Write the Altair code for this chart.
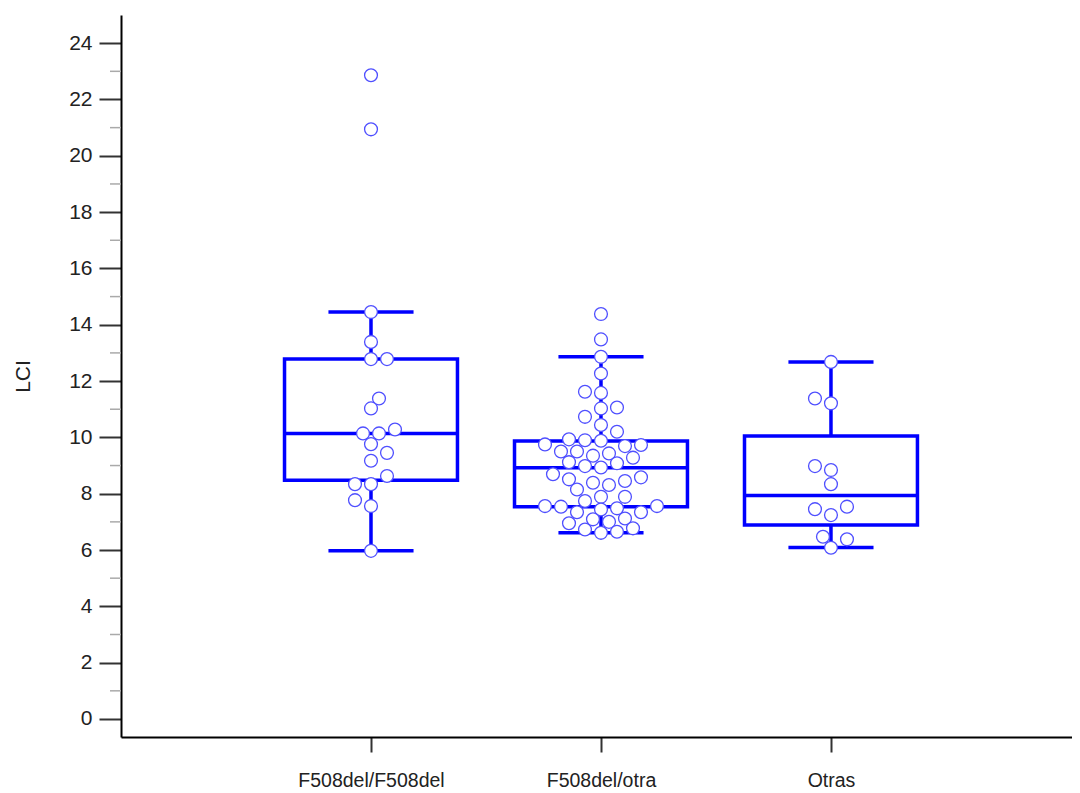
import altair as alt
import pandas as pd

# ---------------- data ----------------
categories = ["F508del/F508del", "F508del/otra", "Otras"]

lci_f508_f508 = [22.86, 20.94, 14.45, 13.39, 12.78, 12.78, 11.38, 11.03, 10.28, 10.14,
                 10.14, 9.76, 9.45, 9.17, 8.63, 8.34, 8.34, 7.77, 7.56, 5.97]

lci_f508_otra = [14.38, 13.48, 12.86, 12.27, 11.62, 11.58, 11.06, 11.03, 10.73, 10.44,
                 10.20, 9.93, 9.90, 9.88, 9.75, 9.73, 9.69, 9.50, 9.50, 9.43,
                 9.35, 9.28, 9.12, 9.08, 8.98, 8.93, 8.69, 8.58, 8.51, 8.45,
                 8.39, 8.31, 8.15, 7.89, 7.89, 7.74, 7.56, 7.56, 7.54, 7.48,
                 7.44, 7.34, 7.34, 7.12, 7.09, 7.00, 6.95, 6.77, 6.73, 6.65, 6.61]

lci_otras = [12.68, 11.38, 11.21, 8.98, 8.84, 8.34, 7.54, 7.45, 7.24, 6.47, 6.38, 6.08]

# box statistics
box_low = [5.97, 6.61, 6.09]
box_q1 = [8.48, 7.54, 6.89]
box_median = [10.14, 8.92, 7.94]
box_q3 = [12.78, 9.87, 10.05]
box_high = [14.45, 12.86, 12.68]

y_ticks = list(range(0, 25, 2))
y_minor = list(range(1, 24, 2))

# ---------------- layout constants ----------------
W, H = 951, 722
XDOM = [-1.087, 3.048]
YDOM = [-0.64, 25.0]
XPX = W / (XDOM[1] - XDOM[0])
YPX = H / (YDOM[1] - YDOM[0])
BLUE = "#0000ff"
BOX_HALF = 0.376
CAP_HALF = 0.185


def swarm(values, step_px=8.0, min_px=12.5):
    placed = []
    offs = [0.0] * len(values)
    order = sorted(range(len(values)), key=lambda i: values[i])
    for n, i in enumerate(order):
        y = values[i] * YPX
        cands = [0]
        for k in range(1, 30):
            cands += [-k, k] if n % 2 == 0 else [k, -k]
        for k in cands:
            x = k * step_px
            if all((x - px) ** 2 + (y - py) ** 2 >= min_px ** 2 for px, py in placed):
                break
        placed.append((x, y))
        offs[i] = x / XPX
    return offs


rows = []
for gi, vals in enumerate([lci_f508_f508, lci_f508_otra, lci_otras]):
    for v, o in zip(vals, swarm(vals)):
        rows.append({"grupo": categories[gi], "idx": gi, "LCI": v, "xpos": gi + o})
points = pd.DataFrame(rows)

boxes = pd.DataFrame({
    "grupo": categories,
    "idx": [0, 1, 2],
    "low": box_low, "q1": box_q1, "median": box_median, "q3": box_q3, "high": box_high,
})

label_expr = "[" + ",".join("'" + c + "'" for c in categories) + "][datum.value]"

xscale = alt.Scale(domain=XDOM, nice=False, zero=False)
yscale = alt.Scale(domain=YDOM, nice=False, zero=False)

x_axis = alt.Axis(values=[0, 1, 2], labelExpr=label_expr, title="", grid=False,
                  tickSize=15, tickWidth=2, tickColor="#333333",
                  domainColor="#000000", domainWidth=2,
                  labelFont="Liberation Sans", labelFontSize=19.5, labelColor="#222222",
                  labelPadding=19, labelFlush=False, labelOverlap=False)
y_axis = alt.Axis(values=y_ticks, title="LCI", grid=False,
                  tickSize=22, tickWidth=2, tickColor="#333333",
                  domainColor="#000000", domainWidth=2,
                  labelFont="Liberation Sans", labelFontSize=21, labelColor="#222222",
                  labelPadding=7, labelFlush=False,
                  titleFont="Liberation Sans", titleFontSize=21, titleFontWeight="normal",
                  titleColor="#222222", titlePadding=35)

bbase = alt.Chart(boxes).transform_calculate(
    bl="datum.idx - %f" % BOX_HALF, br="datum.idx + %f" % BOX_HALF,
    cl="datum.idx - %f" % CAP_HALF, cr="datum.idx + %f" % CAP_HALF,
)

box = bbase.mark_rect(fill="white", fillOpacity=0, stroke=BLUE, strokeWidth=3.5).encode(
    x=alt.X("bl:Q", scale=xscale, axis=x_axis),
    x2="br:Q",
    y=alt.Y("q1:Q", scale=yscale, axis=y_axis),
    y2="q3:Q",
)
median = bbase.mark_rule(color=BLUE, strokeWidth=3.5).encode(
    x=alt.X("bl:Q", scale=xscale), x2="br:Q", y=alt.Y("median:Q", scale=yscale))
whisk_hi = bbase.mark_rule(color=BLUE, strokeWidth=3.5).encode(
    x=alt.X("idx:Q", scale=xscale), y=alt.Y("q3:Q", scale=yscale), y2="high:Q")
whisk_lo = bbase.mark_rule(color=BLUE, strokeWidth=3.5).encode(
    x=alt.X("idx:Q", scale=xscale), y=alt.Y("low:Q", scale=yscale), y2="q1:Q")
cap_hi = bbase.mark_rule(color=BLUE, strokeWidth=3.5).encode(
    x=alt.X("cl:Q", scale=xscale), x2="cr:Q", y=alt.Y("high:Q", scale=yscale))
cap_lo = bbase.mark_rule(color=BLUE, strokeWidth=3.5).encode(
    x=alt.X("cl:Q", scale=xscale), x2="cr:Q", y=alt.Y("low:Q", scale=yscale))

minor = alt.Chart(pd.DataFrame({"m": y_minor})).mark_rule(
    color="#aaaaaa", strokeWidth=1.5).encode(
    y=alt.Y("m:Q", scale=yscale), x=alt.value(-11), x2=alt.value(0))

pts = alt.Chart(points).mark_point(
    shape="circle", filled=True, fill="white", fillOpacity=1, opacity=1,
    stroke="#4f4fff", strokeWidth=1.3, size=165).encode(
    x=alt.X("xpos:Q", scale=xscale),
    y=alt.Y("LCI:Q", scale=yscale),
)

chart = alt.layer(box, median, whisk_hi, whisk_lo, cap_hi, cap_lo, minor, pts).properties(
    width=W, height=H,
    background="white",
    autosize=alt.AutoSizeParams(type="none"),
    padding={"left": 113, "top": 7, "right": 0, "bottom": 56},
).configure_view(stroke="transparent", strokeWidth=0)

chart.save("out.html", embed_options={"renderer": "svg", "actions": False})
